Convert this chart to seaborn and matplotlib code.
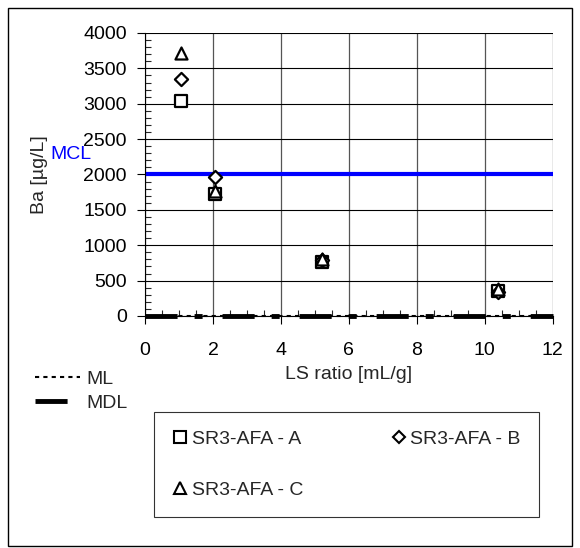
import pandas as pd
import matplotlib.pyplot as plt
import seaborn as sns
from matplotlib.lines import Line2D
from matplotlib.patches import Rectangle

# data
ls_ratio = [1.05, 2.07, 5.2, 10.4]
ba_a = [3040, 1730, 760, 360]
ba_b = [3350, 1960, 790, 340]
ba_c = [3720, 1760, 800, 380]
series_names = ["SR3-AFA - A", "SR3-AFA - B", "SR3-AFA - C"]
mcl_value = 2000
limit_x = [0, 12]
ml_y = [0, 0]
mdl_y = [0, 0]

df = pd.DataFrame({
    "ls": ls_ratio * 3,
    "ba": ba_a + ba_b + ba_c,
    "sample": [s for s in series_names for _ in ls_ratio],
})

sns.set_theme(style="white")
plt.rcParams["font.family"] = ["Liberation Sans", "DejaVu Sans"]

fig = plt.figure(figsize=(5.8, 5.48), dpi=100)
ax = fig.add_axes([0.25, 0.4234, 0.703, 0.5164])

# ML / MDL limit lines along the baseline
mdl_line, = ax.plot(limit_x, mdl_y, color="black", lw=3.5,
                    dashes=(6.6, 3.5, 1.65, 4.1), zorder=3, clip_on=False)
ml_line, = ax.plot(limit_x, ml_y, color="black", lw=1.5, dashes=(2, 2),
                   zorder=3, clip_on=False)

ax.axhline(mcl_value, color="#0000ff", lw=3, zorder=2)
ax.annotate("MCL", xy=(0, mcl_value), xycoords=("axes fraction", "data"),
            xytext=(-95, 11), textcoords="offset pixels",
            color="#0000ff", fontsize=14, ha="left", va="bottom")

markers = {"SR3-AFA - A": "s", "SR3-AFA - B": "D", "SR3-AFA - C": "^"}
sizes = {"SR3-AFA - A": 80, "SR3-AFA - B": 45, "SR3-AFA - C": 75}
for name in series_names:
    sub = df[df["sample"] == name]
    sns.scatterplot(data=sub, x="ls", y="ba", marker=markers[name],
                    s=sizes[name], facecolor="white", edgecolor="black",
                    linewidth=1.6, ax=ax, zorder=4, legend=False)

ax.set_xlim(0, 12)
ax.set_ylim(0, 4000)
ax.set_xticks(range(0, 13, 2))
ax.set_yticks(range(0, 4001, 500))
ax.set_xticks([x * 0.5 for x in range(25)], minor=True)
ax.set_yticks(range(0, 4001, 100), minor=True)
ax.grid(True, which="major", axis="y", color="black", lw=0.8)
ax.grid(True, which="major", axis="x", color="#555555", lw=0.9)
ax.tick_params(axis="both", which="major", direction="out", length=6,
               width=0.8, labelsize=14, colors="black", bottom=True, left=True)
ax.tick_params(axis="y", which="major", pad=7)
ax.tick_params(axis="x", which="major", pad=13)
ax.tick_params(axis="both", which="minor", direction="in", length=4,
               width=0.8, bottom=True, left=True)
for side in ["top", "right"]:
    ax.spines[side].set_visible(False)
for side in ["left", "bottom"]:
    ax.spines[side].set_color("black")
    ax.spines[side].set_linewidth(0.8)

ax.set_xlabel("LS ratio [mL/g]", fontsize=14)
ax.set_ylabel("Ba [µg/L]", fontsize=14)
ax.xaxis.set_label_coords(0.5, -0.177)
ax.yaxis.set_label_coords(-0.238, 0.5)

# ML / MDL legend at left
fig.legend([ml_line, mdl_line], ["ML", "MDL"], loc="upper left",
           bbox_to_anchor=(0.047, 0.339), frameon=False, fontsize=14,
           handlelength=2.3, handletextpad=0.36, labelspacing=0.35,
           borderaxespad=0)

# sample legend box (order fills rows A B / C)
order = ["SR3-AFA - A", "SR3-AFA - C", "SR3-AFA - B"]
handles = [Line2D([], [], ls="", marker=markers[n],
                  markersize=8 if n != "SR3-AFA - B" else 6,
                  mfc="white", mec="black", mew=1.5) for n in order]
leg = fig.legend(handles, order, loc="upper left", ncol=2,
                 bbox_to_anchor=(154 / 580, 1 - 412 / 548), frameon=True,
                 fontsize=14, handletextpad=0.2, columnspacing=4.5,
                 labelspacing=1.7, borderpad=0.95, fancybox=False,
                 handlelength=0.8, borderaxespad=0)
leg.get_frame().set_edgecolor("black")
leg.get_frame().set_linewidth(0.8)

# outer frame of the chart area
fig.patches.append(Rectangle((0.014, 0.004), 0.972, 0.982, transform=fig.transFigure,
                             fill=False, edgecolor="black", lw=1))

fig.savefig("out.png", dpi=100)
